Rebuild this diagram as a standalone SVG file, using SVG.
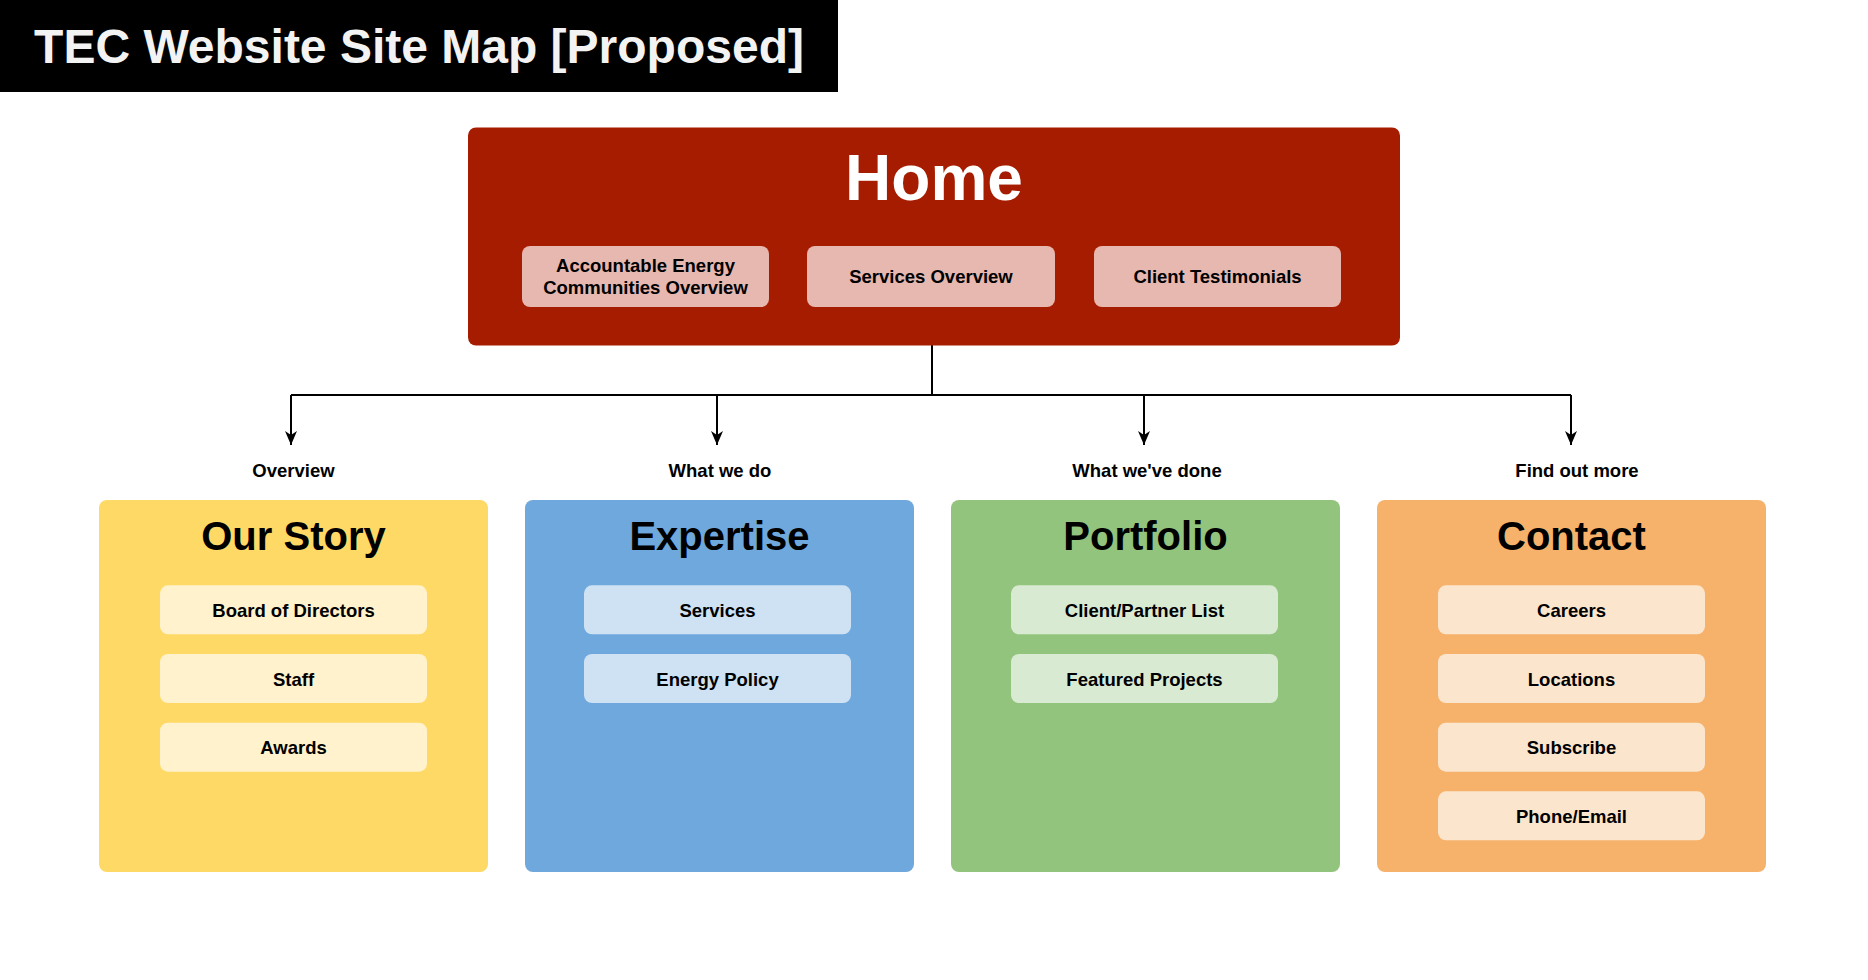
<svg xmlns="http://www.w3.org/2000/svg" width="1868" height="980" viewBox="0 0 1868 980">
<defs>
<style>
text{font-family:"Liberation Sans",Arial,sans-serif;font-weight:bold;text-anchor:middle}
.item{font-size:18.5px;fill:#000}
.lbl{font-size:18.5px;fill:#000}
.coltitle{font-size:40px;fill:#000}
.conn{stroke:#000;stroke-width:2;fill:none}
.sub{fill:#e6b8af}
</style>
<marker id="arr" markerUnits="userSpaceOnUse" markerWidth="16" markerHeight="14" refX="14" refY="6" orient="auto">
<path d="M0,0 L14,6 L0,12 L4,6 Z" fill="#000"/>
</marker>
</defs>
<rect x="0" y="0" width="1868" height="980" fill="#ffffff"/>
<g id="title">
<rect x="0" y="0" width="838" height="92" fill="#000"/>
<text x="419" y="63" style="font-size:48px;fill:#f3f3f3">TEC Website Site Map [Proposed]</text>
</g>
<g id="connectors">
<path class="conn" d="M932,345 V395"/>
<path class="conn" d="M291,395 H1571"/>
<path class="conn" d="M291,395 V445" marker-end="url(#arr)"/>
<path class="conn" d="M717,395 V445" marker-end="url(#arr)"/>
<path class="conn" d="M1144,395 V445" marker-end="url(#arr)"/>
<path class="conn" d="M1571,395 V445" marker-end="url(#arr)"/>
<text class="lbl" x="293.5" y="476.5">Overview</text>
<text class="lbl" x="720" y="476.5">What we do</text>
<text class="lbl" x="1147" y="476.5">What we've done</text>
<text class="lbl" x="1577" y="476.5">Find out more</text>
</g>
<g id="home">
<rect x="468" y="127.5" width="932" height="218" rx="8" fill="#a61c00"/>
<text x="934" y="200" style="font-size:64px;fill:#fff">Home</text>
<rect class="sub" x="522" y="246" width="247" height="61" rx="8"/>
<text class="item" x="645.5" y="272">Accountable Energy</text>
<text class="item" x="645.5" y="293.5">Communities Overview</text>
<rect class="sub" x="807" y="246" width="248" height="61" rx="8"/>
<text class="item" x="931" y="283">Services Overview</text>
<rect class="sub" x="1094" y="246" width="247" height="61" rx="8"/>
<text class="item" x="1217.5" y="283">Client Testimonials</text>
</g>
<g id="our-story">
<rect x="99" y="500" width="389" height="372" rx="8" fill="#ffd966"/>
<text class="coltitle" x="293.5" y="550">Our Story</text>
<rect x="160" y="585.3" width="267" height="49" rx="8" fill="#fff2cc"/>
<text class="item" x="293.5" y="617">Board of Directors</text>
<rect x="160" y="654" width="267" height="49" rx="8" fill="#fff2cc"/>
<text class="item" x="293.5" y="685.7">Staff</text>
<rect x="160" y="722.7" width="267" height="49" rx="8" fill="#fff2cc"/>
<text class="item" x="293.5" y="754.4">Awards</text>
</g>
<g id="expertise">
<rect x="525" y="500" width="389" height="372" rx="8" fill="#6fa8dc"/>
<text class="coltitle" x="719.5" y="550">Expertise</text>
<rect x="584" y="585.3" width="267" height="49" rx="8" fill="#cfe2f3"/>
<text class="item" x="717.5" y="617">Services</text>
<rect x="584" y="654" width="267" height="49" rx="8" fill="#cfe2f3"/>
<text class="item" x="717.5" y="685.7">Energy Policy</text>
</g>
<g id="portfolio">
<rect x="951" y="500" width="389" height="372" rx="8" fill="#93c47d"/>
<text class="coltitle" x="1145.5" y="550">Portfolio</text>
<rect x="1011" y="585.3" width="267" height="49" rx="8" fill="#d9ead3"/>
<text class="item" x="1144.5" y="617">Client/Partner List</text>
<rect x="1011" y="654" width="267" height="49" rx="8" fill="#d9ead3"/>
<text class="item" x="1144.5" y="685.7">Featured Projects</text>
</g>
<g id="contact">
<rect x="1377" y="500" width="389" height="372" rx="8" fill="#f6b26b"/>
<text class="coltitle" x="1571.5" y="550">Contact</text>
<rect x="1438" y="585.3" width="267" height="49" rx="8" fill="#fce5cd"/>
<text class="item" x="1571.5" y="617">Careers</text>
<rect x="1438" y="654" width="267" height="49" rx="8" fill="#fce5cd"/>
<text class="item" x="1571.5" y="685.7">Locations</text>
<rect x="1438" y="722.7" width="267" height="49" rx="8" fill="#fce5cd"/>
<text class="item" x="1571.5" y="754.4">Subscribe</text>
<rect x="1438" y="791.3" width="267" height="49" rx="8" fill="#fce5cd"/>
<text class="item" x="1571.5" y="823">Phone/Email</text>
</g>
</svg>
